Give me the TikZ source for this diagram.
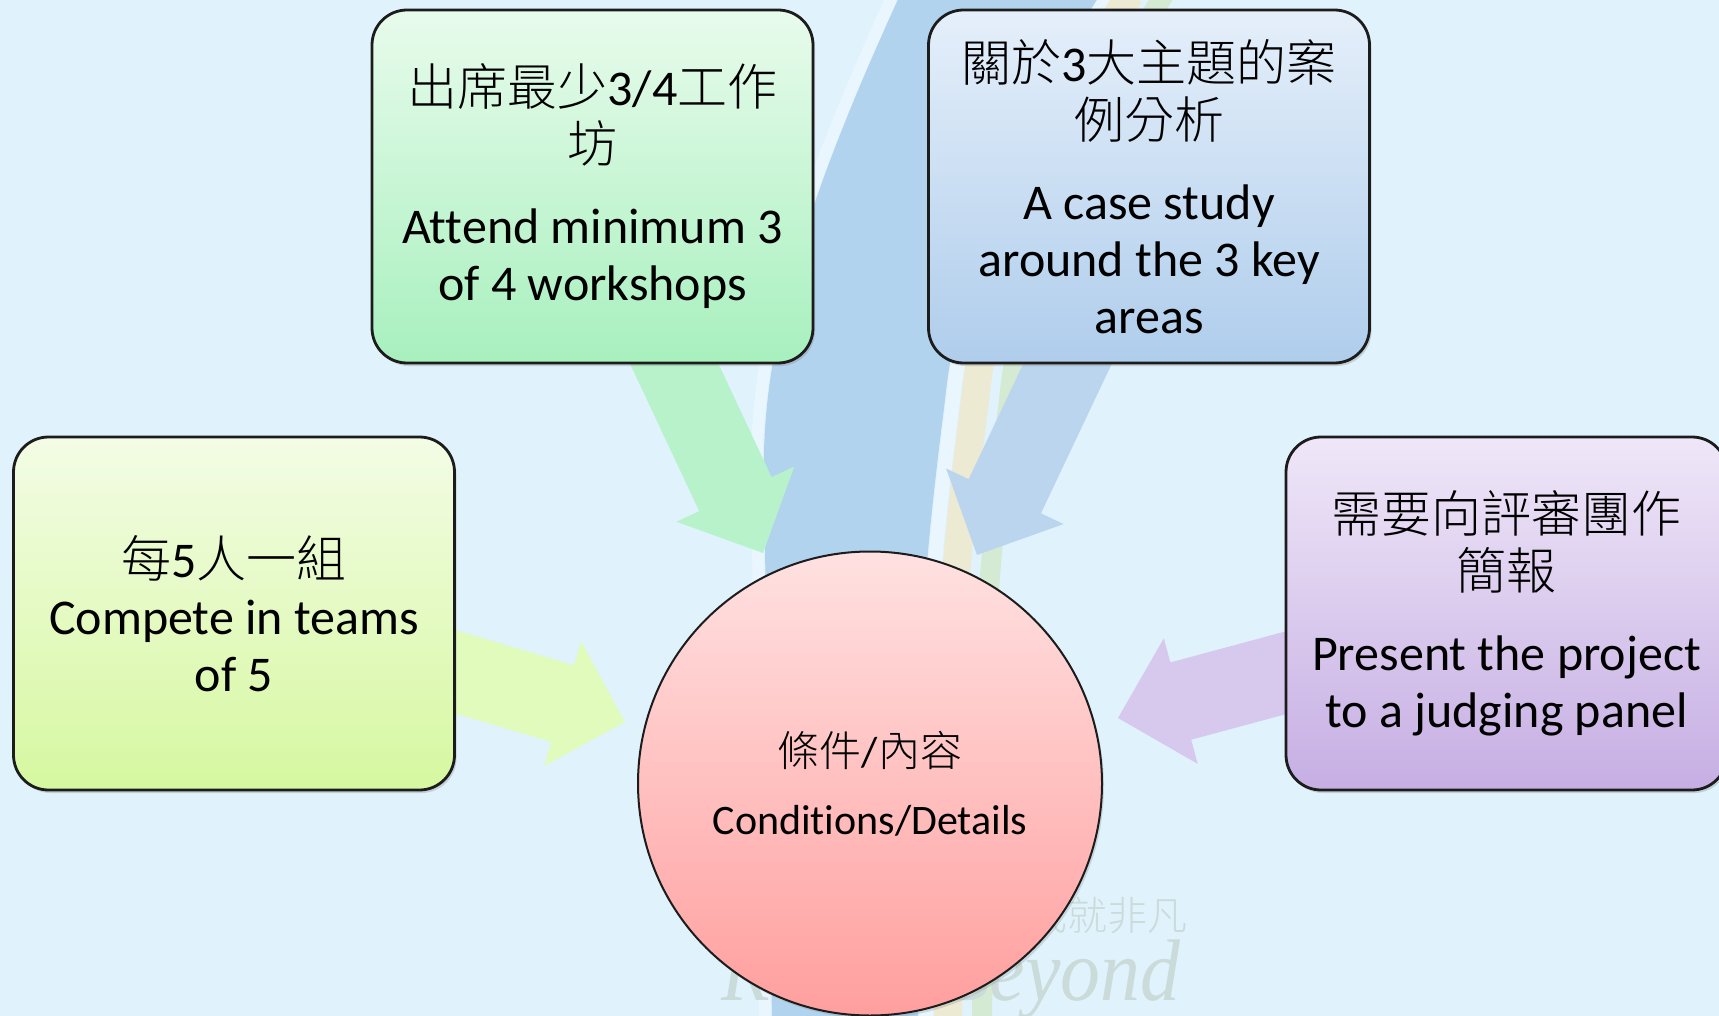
\documentclass[tikz,border=0pt]{standalone}
\usepackage{fontspec}
\setmainfont{Carlito}[Ligatures=NoCommon]
\IfFontExistsTF{Noto Sans CJK TC Light}
  {\newfontfamily\cjk{Noto Sans CJK TC Light}}
  {\newfontfamily\cjk{Noto Sans CJK TC}}
\newfontfamily\wmserif{Liberation Serif}
\usetikzlibrary{calc,shadows}

\definecolor{bg}{HTML}{E0F2FC}
\definecolor{bandblue}{HTML}{B1D3EE}
\definecolor{stripeW}{HTML}{E9F6FD}
\definecolor{stripeY}{HTML}{ECEAD2}
\definecolor{stripeG}{HTML}{D4EAD3}
\definecolor{wm}{HTML}{CBDBD9}
\definecolor{boxline}{HTML}{1C1C1C}
\definecolor{gTop}{HTML}{E8FBEC}
\definecolor{gBot}{HTML}{A8F0BE}
\definecolor{bTop}{HTML}{E5EFFA}
\definecolor{bBot}{HTML}{AFCDEC}
\definecolor{yTop}{HTML}{F3FCE5}
\definecolor{yBot}{HTML}{D6F8A0}
\definecolor{pTop}{HTML}{EFE7F8}
\definecolor{pBot}{HTML}{C6AEE3}
\definecolor{cTop}{HTML}{FFE1E1}
\definecolor{cBot}{HTML}{FF9F9E}
\definecolor{gArr}{HTML}{B8F2CA}
\definecolor{bArr}{HTML}{BBD5EF}
\definecolor{yArr}{HTML}{E1FBBC}
\definecolor{pArr}{HTML}{D7C8EE}

\newcommand\arrShaft{20pt}
\newcommand\arrBarb{32.5pt}
\newcommand\arrHead{32.5pt}
% #1 name, #2 start coordinate, #3 tip coordinate, #4 colour
\newcommand\blkarrow[4]{%
  \coordinate (#1-b) at ($(#3)!\arrHead!(#2)$);
  \fill[#4] ($(#2)!\arrShaft!90:(#3)$) -- ($(#1-b)!\arrShaft!90:(#3)$)
    -- ($(#1-b)!\arrBarb!90:(#3)$) -- (#3)
    -- ($(#1-b)!\arrBarb!-90:(#3)$) -- ($(#1-b)!\arrShaft!-90:(#3)$)
    -- ($(#2)!\arrShaft!-90:(#3)$) -- cycle;}

\tikzset{
  infobox/.style={rectangle, rounded corners=17.5pt, draw=boxline, line width=1.4pt,
    minimum width=220.5pt, minimum height=176.5pt, align=center, inner sep=0pt,
    font=\fontsize{25}{28.5}\selectfont,
    drop shadow={shadow xshift=1pt, shadow yshift=-1.5pt, opacity=0.3}},
  corenode/.style={circle, minimum size=232pt, inner sep=0pt, draw=boxline, line width=1pt,
    align=center, font=\fontsize{21}{25}\selectfont,
    drop shadow={shadow xshift=1pt, shadow yshift=-1.5pt, opacity=0.25}},
}

\begin{document}
\begin{tikzpicture}[x=0.5pt, y=-0.5pt]
\useasboundingbox (0,0) rectangle (1719,1016);
\fill[bg] (0,0) rectangle (1719,1016);

% background swoosh
\draw[stripeW, line width=6pt, xshift=-3.5pt] (900,-5) .. controls (820,170) and (760,330) .. (764,480) -- (772,1021);
\draw[stripeW, line width=7pt, xshift=4pt] (1100,-5) .. controls (1000,150) and (955,300) .. (945,400) .. controls (935,480) and (925,560) .. (922,650) -- (918,1021);
\draw[stripeY, line width=14pt, xshift=15pt] (1100,-5) .. controls (1000,150) and (955,300) .. (945,400) .. controls (935,480) and (925,560) .. (922,650) -- (918,1021);
\draw[stripeG, line width=10pt, xshift=32pt] (1100,-5) .. controls (1000,150) and (955,300) .. (945,400) .. controls (935,480) and (925,560) .. (922,650) -- (918,1021);
\fill[bandblue] (900,-5) .. controls (820,170) and (760,330) .. (764,480) -- (772,1021)
  -- (918,1021) -- (922,650) .. controls (925,560) and (935,480) .. (945,400)
  .. controls (955,300) and (1000,150) .. (1100,-5) -- cycle;

% watermark
\node[text=wm, font=\cjk\fontsize{20}{20}\selectfont, inner sep=0pt] (wmcn) at (1107,915) {成就非凡};
\node[text=wm, font=\wmserif\itshape\fontsize{38}{38}\selectfont, inner sep=0pt, anchor=base,
  xscale=1.05, yscale=1.15] (wmen) at (951,1000) {Reach Beyond};

% block arrows
\coordinate (gS) at (657,327);  \coordinate (gE) at (763,553);
\coordinate (bS) at (1083,331); \coordinate (bE) at (977,555);
\coordinate (yS) at (385,651);  \coordinate (yE) at (625,722);
\coordinate (pS) at (1359,653); \coordinate (pE) at (1118,718);
\blkarrow{ga}{gS}{gE}{gArr}
\blkarrow{ba}{bS}{bE}{bArr}
\blkarrow{ya}{yS}{yE}{yArr}
\blkarrow{pa}{pS}{pE}{pArr}

% boxes
\node[infobox, top color=gTop, bottom color=gBot] (ws) at (592.5,186.5)
  {{\cjk 出席最少}3/4{\cjk 工作}\\{\cjk 坊}\\[12pt]Attend minimum 3\\of 4 workshops};
\node[infobox, top color=bTop, bottom color=bBot] (cs) at (1149,186.5)
  {{\cjk 關於}3{\cjk 大主題的案}\\{\cjk 例分析}\\[12pt]A case study\\around the 3 key\\areas};
\node[infobox, top color=yTop, bottom color=yBot] (tm) at (234,613.5)
  {{\cjk 每}5{\cjk 人一組}\\Compete in teams\\of 5};
\node[infobox, top color=pTop, bottom color=pBot] (pr) at (1506.5,613.5)
  {{\cjk 需要向評審團作}\\{\cjk 簡報}\\[12pt]Present the project\\to a judging panel};

% centre
\node[corenode, top color=cTop, bottom color=cBot] (core) at (870,783.5)
  {{\cjk 條件}/{\cjk 內容}\\[9pt]Conditions/Details};
\end{tikzpicture}
\end{document}
